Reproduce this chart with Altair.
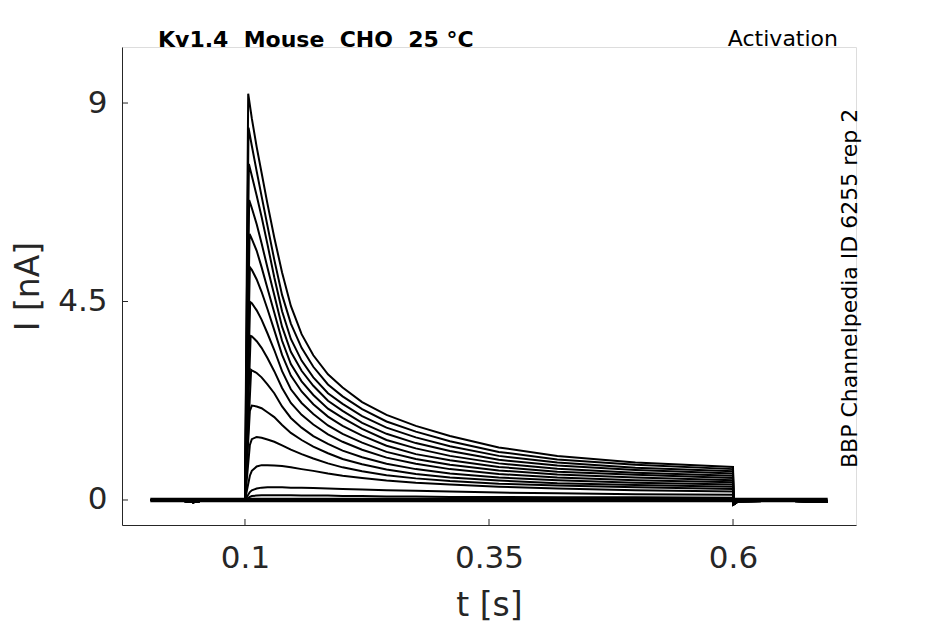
import altair as alt
import pandas as pd

# sweep segments shared by all traces (s, nA)
PRE_T = [0.003, 0.03, 0.047, 0.06, 0.09, 0.1]
PRE_I = [0.0, 0.0, -0.05, 0.0, 0.01, 0.0]
STEP_T = [0.107, 0.112, 0.117, 0.123, 0.13, 0.138, 0.147, 0.158, 0.17, 0.185,
          0.2, 0.22, 0.245, 0.275, 0.31, 0.36, 0.42, 0.5, 0.6]
POST_T = [0.6005, 0.605, 0.65, 0.697]
POST_I = [-0.1, -0.03, -0.02, -0.04]

# first point after the voltage step (peak for the large traces)
RISE_T = [0.1033, 0.1036, 0.104, 0.1043, 0.1047, 0.105, 0.1053, 0.1058, 0.1063, 0.105, 0.105, 0.105, 0.105, 0.105]
RISE_I = [9.21, 8.44, 7.62, 6.80, 6.03, 5.28, 4.49, 3.72, 2.95, 2.02, 1.25, 0.55, 0.18, 0.07]

# current at STEP_T
TRACES = [
    [8.65, 8.00, 7.42, 6.72, 5.95, 5.16, 4.40, 3.76, 3.28, 2.85, 2.55, 2.22, 1.93, 1.68, 1.45, 1.19, 1.00, 0.85, 0.75],
    [8.03, 7.45, 6.89, 6.22, 5.45, 4.65, 4.00, 3.45, 3.02, 2.62, 2.35, 2.06, 1.78, 1.55, 1.33, 1.09, 0.92, 0.80, 0.70],
    [7.35, 6.90, 6.42, 5.80, 5.05, 4.28, 3.65, 3.16, 2.78, 2.42, 2.18, 1.90, 1.64, 1.42, 1.22, 1.00, 0.85, 0.73, 0.65],
    [6.62, 6.25, 5.82, 5.27, 4.65, 3.93, 3.36, 2.93, 2.59, 2.25, 2.02, 1.75, 1.50, 1.29, 1.11, 0.91, 0.78, 0.68, 0.60],
    [5.92, 5.65, 5.28, 4.80, 4.25, 3.61, 3.08, 2.69, 2.38, 2.07, 1.86, 1.61, 1.36, 1.17, 1.00, 0.83, 0.71, 0.62, 0.55],
    [5.22, 5.00, 4.72, 4.33, 3.85, 3.29, 2.82, 2.46, 2.17, 1.89, 1.68, 1.46, 1.23, 1.04, 0.90, 0.75, 0.64, 0.57, 0.50],
    [4.46, 4.30, 4.09, 3.78, 3.40, 2.92, 2.51, 2.20, 1.95, 1.69, 1.50, 1.30, 1.09, 0.93, 0.80, 0.67, 0.58, 0.51, 0.45],
    [3.71, 3.60, 3.45, 3.22, 2.92, 2.54, 2.20, 1.93, 1.71, 1.49, 1.32, 1.14, 0.96, 0.82, 0.70, 0.59, 0.51, 0.45, 0.40],
    [2.94, 2.88, 2.78, 2.62, 2.42, 2.12, 1.86, 1.64, 1.45, 1.27, 1.12, 0.97, 0.82, 0.70, 0.60, 0.51, 0.45, 0.39, 0.35],
    [2.14, 2.12, 2.08, 1.99, 1.88, 1.70, 1.52, 1.36, 1.21, 1.06, 0.93, 0.81, 0.69, 0.59, 0.51, 0.44, 0.38, 0.34, 0.30],
    [1.38, 1.43, 1.41, 1.37, 1.32, 1.24, 1.14, 1.04, 0.94, 0.83, 0.74, 0.65, 0.56, 0.49, 0.43, 0.37, 0.33, 0.29, 0.25],
    [0.66, 0.76, 0.79, 0.79, 0.78, 0.77, 0.74, 0.70, 0.66, 0.60, 0.55, 0.50, 0.44, 0.39, 0.35, 0.30, 0.26, 0.22, 0.19],
    [0.22, 0.26, 0.28, 0.29, 0.29, 0.29, 0.28, 0.28, 0.27, 0.26, 0.25, 0.24, 0.22, 0.21, 0.19, 0.17, 0.15, 0.13, 0.12],
    [0.09, 0.10, 0.11, 0.11, 0.11, 0.11, 0.11, 0.10, 0.10, 0.10, 0.09, 0.09, 0.08, 0.08, 0.07, 0.07, 0.06, 0.06, 0.05],
]
# sweeps that hardly open, flat over the whole sweep
FLAT_I = [-0.03, 0.0, 0.03]

X_TICKS = [0.1, 0.35, 0.6]
Y_TICKS = [0, 4.5, 9]

rows = []
for i, vals in enumerate(TRACES):
    pts = list(zip(PRE_T, PRE_I)) + [(RISE_T[i], RISE_I[i])] + list(zip(STEP_T, vals)) + list(zip(POST_T, POST_I))
    for k, (t, v) in enumerate(pts):
        rows.append({"trace": i, "k": k, "t": t, "I": v})
all_t = PRE_T + STEP_T + POST_T
for j, v in enumerate(FLAT_I):
    for k, t in enumerate(all_t):
        rows.append({"trace": 100 + j, "k": k, "t": t, "I": v})
df = pd.DataFrame(rows)

W, H = 734, 478
ink = "#262626"
xs = alt.Scale(domain=[-0.026, 0.726], nice=False, zero=False)
ys = alt.Scale(domain=[-0.567, 10.27], nice=False, zero=False)


def axis(pad, tpad):
    return alt.Axis(grid=False, ticks=False, tickSize=0, labelExpr="'' + datum.value",
                    labelFontSize=31, labelColor=ink, labelPadding=pad,
                    titleFontSize=33, titleColor=ink, titleFontWeight="normal", titlePadding=tpad,
                    domainColor=ink, labelFont="DejaVu Sans", titleFont="DejaVu Sans")


xax = axis(18, 16)
xax["values"] = X_TICKS
yax = axis(15, 12)
yax["values"] = Y_TICKS

lines = alt.Chart(df).mark_line(color="black", strokeWidth=2, clip=True).encode(
    x=alt.X("t:Q", scale=xs, title="t [s]", axis=xax),
    y=alt.Y("I:Q", scale=ys, title="I [nA]", axis=yax),
    detail="trace:N",
    order="k:Q",
)

# inward ticks
xt = alt.Chart(pd.DataFrame({"v": X_TICKS})).mark_rule(color=ink, strokeWidth=1).encode(
    x=alt.X("v:Q", scale=xs), y=alt.value(H), y2=alt.value(H - 6))
yt = alt.Chart(pd.DataFrame({"v": Y_TICKS})).mark_rule(color=ink, strokeWidth=1).encode(
    y=alt.Y("v:Q", scale=ys), x=alt.value(0), x2=alt.value(6))

nb = "\u00a0"
title = alt.Chart(pd.DataFrame({"s": [f"Kv1.4{nb}{nb}Mouse{nb}{nb}CHO{nb}{nb}25{nb}°C"]})).mark_text(
    font="DejaVu Sans", fontSize=22, fontWeight="bold", color="black", align="left", baseline="middle"
).encode(text="s:N", x=alt.value(36), y=alt.value(-7))
prot = alt.Chart(pd.DataFrame({"s": ["Activation"]})).mark_text(
    font="DejaVu Sans", fontSize=22, color="black", align="right", baseline="middle"
).encode(text="s:N", x=alt.value(716), y=alt.value(-8))
src = alt.Chart(pd.DataFrame({"s": ["BBP Channelpedia ID 6255 rep 2"]})).mark_text(
    font="DejaVu Sans", fontSize=22, color="black", align="left", baseline="middle", angle=270
).encode(text="s:N", x=alt.value(728), y=alt.value(421))

chart = alt.layer(lines, xt, yt, title, prot, src).properties(
    width=W, height=H,
    autosize=alt.AutoSizeParams(type="none"),
    padding={"left": 114, "top": 39, "right": 80, "bottom": 97},
).configure_view(stroke=None).configure(background="white")

chart.save("out.html", embed_options={"renderer": "svg", "actions": False})
